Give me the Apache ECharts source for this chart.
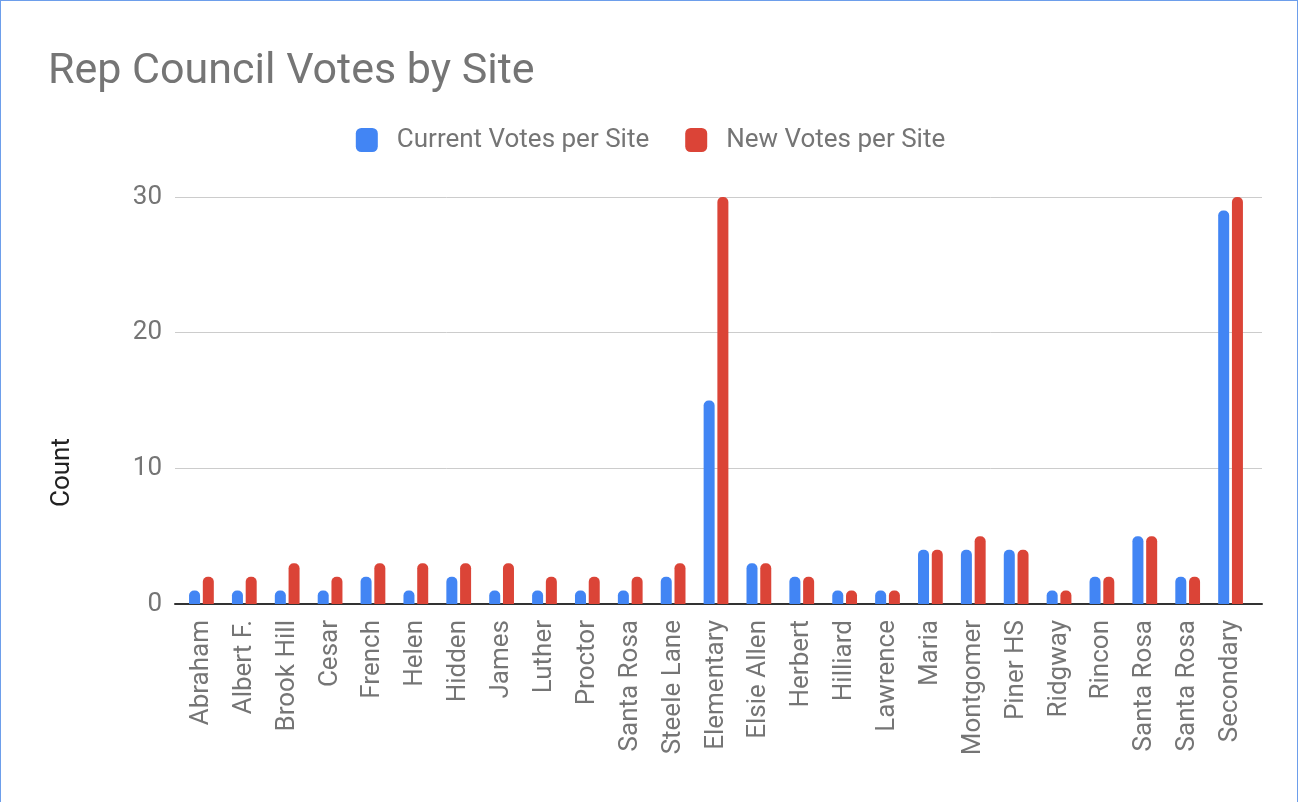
<!DOCTYPE html>
<html>
<head>
<meta charset="utf-8">
<script src="https://cdn.jsdelivr.net/npm/echarts@6/dist/echarts.min.js"></script>
<style>
html,body{margin:0;padding:0;background:#fff;}
#frame{position:absolute;left:0;top:0;width:1296px;height:802px;border:1px solid #6d9eeb;border-bottom:none;}
#chart{width:1301px;height:802px;}
</style>
</head>
<body>
<div id="frame"></div>
<div id="chart"></div>
<script>
const categories = ["Abraham","Albert F.","Brook Hill","Cesar","French","Helen","Hidden","James","Luther","Proctor","Santa Rosa","Steele Lane","Elementary","Elsie Allen","Herbert","Hilliard","Lawrence","Maria","Montgomer","Piner HS","Ridgway","Rincon","Santa Rosa","Santa Rosa","Secondary"];
const currentVotes = [1,1,1,1,2,1,2,1,1,1,1,2,15,3,2,1,1,4,4,4,1,2,5,2,29];
const newVotes = [2,2,3,2,3,3,3,3,2,2,2,3,30,3,2,1,1,4,5,4,1,2,5,2,30];
const yTicks = [0,10,20,30];

const grey = '#757575';
const chart = echarts.init(document.getElementById('chart'));
chart.setOption({
  animation:false,
  textStyle:{fontFamily:'Roboto'},
  title:{text:'Rep Council Votes by Site',left:43,top:46,textStyle:{fontFamily:'Roboto',fontSize:43,fontWeight:'normal',color:grey}},
  legend:{top:122,left:'center',itemWidth:22,itemHeight:24,itemGap:36,icon:'roundRect',
    textStyle:{fontFamily:'Roboto',fontSize:26,color:grey,padding:[0,0,0,14]}},
  grid:[
    {left:175,right:39,top:197,bottom:198,containLabel:false},
    {left:180,right:49,top:197,bottom:198,containLabel:false}
  ],
  xAxis:[
    {type:'value',gridIndex:0,min:0,max:1,axisLine:{show:true,onZero:false,lineStyle:{color:'#333',width:2}},
      axisTick:{show:false},axisLabel:{show:false},splitLine:{show:false}},
    {type:'category',gridIndex:1,data:categories,
      axisLine:{show:false},axisTick:{show:false},
      axisLabel:{rotate:90,interval:0,fontSize:26,color:grey,margin:16,fontFamily:'Roboto'}}
  ],
  yAxis:[
    {type:'value',gridIndex:0,min:yTicks[0],max:yTicks[yTicks.length-1],interval:10,
      name:'Count',nameLocation:'middle',nameGap:100,nameRotate:90,
      nameTextStyle:{fontSize:26,color:'#222',fontFamily:'Roboto',padding:[0,144,0,0]},
      axisLine:{show:false},axisTick:{show:false},
      axisLabel:{fontSize:26,color:grey,margin:13,fontFamily:'Roboto'},
      splitLine:{lineStyle:{color:'#ccc'}}},
    {type:'value',gridIndex:1,min:yTicks[0],max:yTicks[yTicks.length-1],interval:10,
      axisLine:{show:false},axisTick:{show:false},axisLabel:{show:false},splitLine:{show:false}}
  ],
  series:[
    {name:'Current Votes per Site',type:'bar',xAxisIndex:1,yAxisIndex:1,data:currentVotes,barWidth:11,barGap:'25%',
      itemStyle:{color:'#4285f4',borderRadius:[5,5,0,0]}},
    {name:'New Votes per Site',type:'bar',xAxisIndex:1,yAxisIndex:1,data:newVotes,barWidth:11,
      itemStyle:{color:'#db4437',borderRadius:[5,5,0,0]}}
  ]
});
</script>
</body>
</html>
